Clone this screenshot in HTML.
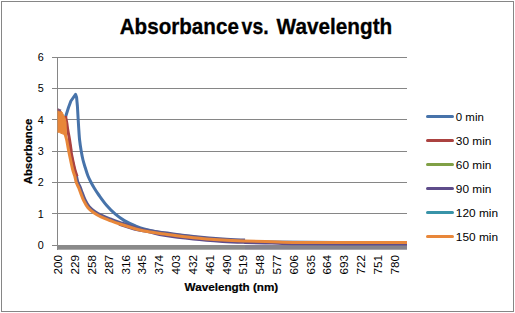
<!DOCTYPE html>
<html><head><meta charset="utf-8">
<style>
html,body{margin:0;padding:0;background:#fff;overflow:hidden;}
svg{display:block;}
text{font-family:"Liberation Sans",sans-serif;}
</style></head>
<body>
<svg width="515" height="313" viewBox="0 0 515 313">
<rect x="0" y="0" width="515" height="313" fill="#fff"/>
<rect x="1.5" y="1.5" width="512" height="310" fill="none" stroke="#868686" stroke-width="1"/>
<g font-size="21.5" font-weight="bold" fill="#000" stroke="#000" stroke-width="0.3">
<text x="119.7" y="33.9" textLength="119.2" lengthAdjust="spacingAndGlyphs">Absorbance</text>
<text x="241.6" y="33.9" textLength="27" lengthAdjust="spacingAndGlyphs">vs.</text>
<text x="276.6" y="33.9" textLength="115.7" lengthAdjust="spacingAndGlyphs">Wavelength</text>
</g>
<g stroke="#868686" stroke-width="1" shape-rendering="crispEdges">
<line x1="52" y1="213.67" x2="407" y2="213.67"/>
<line x1="52" y1="182.33" x2="407" y2="182.33"/>
<line x1="52" y1="151.00" x2="407" y2="151.00"/>
<line x1="52" y1="119.67" x2="407" y2="119.67"/>
<line x1="52" y1="88.33" x2="407" y2="88.33"/>
<line x1="52" y1="57.00" x2="407" y2="57.00"/>
<line x1="52" y1="245.5" x2="57" y2="245.5"/>
<line x1="57.5" y1="57" x2="57.5" y2="250"/>
</g>
<rect x="57" y="245" width="350" height="4.7" fill="#8A8A8A"/>
<rect x="245" y="245" width="162" height="4.7" fill="#6A5A9A" fill-opacity="0.12"/>
<g font-size="10.8" fill="#000" text-anchor="end">
<text x="43.8" y="248.90">0</text>
<text x="43.8" y="217.57">1</text>
<text x="43.8" y="186.23">2</text>
<text x="43.8" y="154.90">3</text>
<text x="43.8" y="123.57">4</text>
<text x="43.8" y="92.23">5</text>
<text x="43.8" y="60.90">6</text>
</g>
<text transform="translate(31.5,151.5) rotate(-90)" font-size="11.5" font-weight="bold" stroke="#000" stroke-width="0.2" text-anchor="middle" textLength="65.5" lengthAdjust="spacingAndGlyphs">Absorbance</text>
<text x="184.6" y="291.4" font-size="11.5" font-weight="bold" stroke="#000" stroke-width="0.2" textLength="93.6" lengthAdjust="spacingAndGlyphs">Wavelength (nm)</text>
<g font-size="10.2" fill="#000" text-anchor="end">
<text transform="translate(58.75,255) rotate(-90)" y="3.65" textLength="19.6" lengthAdjust="spacingAndGlyphs">200</text>
<text transform="translate(75.56,255) rotate(-90)" y="3.65" textLength="19.6" lengthAdjust="spacingAndGlyphs">229</text>
<text transform="translate(92.37,255) rotate(-90)" y="3.65" textLength="19.6" lengthAdjust="spacingAndGlyphs">258</text>
<text transform="translate(109.18,255) rotate(-90)" y="3.65" textLength="19.6" lengthAdjust="spacingAndGlyphs">287</text>
<text transform="translate(125.99,255) rotate(-90)" y="3.65" textLength="19.6" lengthAdjust="spacingAndGlyphs">316</text>
<text transform="translate(142.80,255) rotate(-90)" y="3.65" textLength="19.6" lengthAdjust="spacingAndGlyphs">345</text>
<text transform="translate(159.61,255) rotate(-90)" y="3.65" textLength="19.6" lengthAdjust="spacingAndGlyphs">374</text>
<text transform="translate(176.42,255) rotate(-90)" y="3.65" textLength="19.6" lengthAdjust="spacingAndGlyphs">403</text>
<text transform="translate(193.23,255) rotate(-90)" y="3.65" textLength="19.6" lengthAdjust="spacingAndGlyphs">432</text>
<text transform="translate(210.04,255) rotate(-90)" y="3.65" textLength="19.6" lengthAdjust="spacingAndGlyphs">461</text>
<text transform="translate(226.85,255) rotate(-90)" y="3.65" textLength="19.6" lengthAdjust="spacingAndGlyphs">490</text>
<text transform="translate(243.66,255) rotate(-90)" y="3.65" textLength="19.6" lengthAdjust="spacingAndGlyphs">519</text>
<text transform="translate(260.47,255) rotate(-90)" y="3.65" textLength="19.6" lengthAdjust="spacingAndGlyphs">548</text>
<text transform="translate(277.28,255) rotate(-90)" y="3.65" textLength="19.6" lengthAdjust="spacingAndGlyphs">577</text>
<text transform="translate(294.09,255) rotate(-90)" y="3.65" textLength="19.6" lengthAdjust="spacingAndGlyphs">606</text>
<text transform="translate(310.90,255) rotate(-90)" y="3.65" textLength="19.6" lengthAdjust="spacingAndGlyphs">635</text>
<text transform="translate(327.71,255) rotate(-90)" y="3.65" textLength="19.6" lengthAdjust="spacingAndGlyphs">664</text>
<text transform="translate(344.52,255) rotate(-90)" y="3.65" textLength="19.6" lengthAdjust="spacingAndGlyphs">693</text>
<text transform="translate(361.33,255) rotate(-90)" y="3.65" textLength="19.6" lengthAdjust="spacingAndGlyphs">722</text>
<text transform="translate(378.14,255) rotate(-90)" y="3.65" textLength="19.6" lengthAdjust="spacingAndGlyphs">751</text>
<text transform="translate(394.95,255) rotate(-90)" y="3.65" textLength="19.6" lengthAdjust="spacingAndGlyphs">780</text>
</g>
<g fill="none" stroke-width="3" stroke-linejoin="round" stroke-linecap="butt">
<path d="M65.20 118.00 L68.50 107.50 L70.90 101.00 L75.60 94.40 L76.60 97.50 L77.40 106.00 L78.10 118.00 L78.70 128.00 L78.70 128.00 C78.85 130.00 79.18 136.17 79.60 140.00 C80.02 143.83 80.63 147.67 81.20 151.00 C81.77 154.33 82.32 157.20 83.00 160.00 C83.68 162.80 84.47 165.13 85.30 167.80 C86.13 170.47 87.03 173.55 88.00 176.00 C88.97 178.45 90.02 180.42 91.10 182.50 C92.18 184.58 93.22 186.42 94.50 188.50 C95.78 190.58 96.80 192.22 98.80 195.00 C100.80 197.78 103.73 202.00 106.50 205.20 C109.27 208.40 112.42 211.63 115.40 214.20 C118.38 216.77 121.13 218.68 124.40 220.60 C127.67 222.52 131.57 224.27 135.00 225.70 C138.43 227.13 140.17 227.93 145.00 229.20 C149.83 230.47 156.00 232.00 164.00 233.30 C172.00 234.60 183.17 235.83 193.00 237.00 C202.83 238.17 214.33 239.57 223.00 240.30 C231.67 241.03 236.83 241.10 245.00 241.40 C253.17 241.70 245.00 241.83 272.00 242.10 C299.00 242.37 384.50 242.85 407.00 243.00" stroke="#4773AA"/>
<path d="M65.50 116.00 C65.72 117.17 66.42 120.67 66.80 123.00 C67.18 125.33 67.33 127.17 67.80 130.00 C68.27 132.83 69.03 136.50 69.60 140.00 C70.17 143.50 70.93 149.17 71.20 151.00" stroke="#AB4240"/>
<path d="M70.26 150.67 C70.90 153.63 73.01 164.11 74.06 168.42 C75.10 172.74 75.92 174.31 76.54 176.57 C77.17 178.83 77.21 180.21 77.81 181.98 C78.42 183.75 79.43 185.38 80.18 187.19 C80.93 189.00 81.46 190.70 82.29 192.82 C83.12 194.93 83.97 197.56 85.13 199.88 C86.29 202.21 87.63 204.85 89.23 206.78 C90.83 208.71 92.64 210.04 94.72 211.49 C96.79 212.94 99.04 214.20 101.69 215.45 C104.33 216.71 107.58 217.86 110.57 219.00 C113.56 220.15 115.26 220.81 119.65 222.30 C124.03 223.78 131.78 226.51 136.87 227.93 C141.97 229.35 145.61 230.02 150.22 230.82 C154.84 231.62 157.33 231.78 164.57 232.71 C171.80 233.64 183.93 235.34 193.63 236.41 C203.33 237.47 214.19 238.49 222.76 239.10 C231.33 239.72 241.33 239.93 245.04 240.10" stroke="#5A5A8E"/>
<path d="M68.77 139.62 C69.10 141.45 69.80 145.81 70.76 150.59 C71.72 155.37 73.50 164.01 74.54 168.31 C75.58 172.61 76.60 175.04 77.01 176.39" stroke="#AB4240"/>
<path d="M119.01 224.09 C121.93 224.99 131.35 228.15 136.51 229.49 C141.68 230.82 145.38 231.12 150.00 232.10 C154.62 233.08 157.00 234.22 164.22 235.39 C171.45 236.55 183.63 238.09 193.36 239.09 C203.09 240.09 214.01 240.85 222.61 241.40 C231.21 241.95 236.73 242.12 244.95 242.40 C253.18 242.68 262.79 242.87 271.96 243.10 C281.14 243.33 277.49 243.65 299.99 243.80 C322.50 243.95 389.16 243.97 407.00 244.00" stroke="#5E4C8A"/>
<path d="M57.50 109.50 L60.00 110.50 L62.00 112.00 L65.00 118.00 L66.00 122.00 L66.30 130.00 L66.50 135.00 L62.70 134.00 L59.50 132.60 L57.50 132.00" fill="#E8873A" stroke="#E8873A" stroke-width="1"/>
<path d="M65.00 134.00 C65.28 135.00 66.08 137.17 66.70 140.00 C67.32 142.83 67.73 146.20 68.70 151.00 C69.67 155.80 71.45 164.47 72.50 168.80 C73.55 173.13 74.37 174.72 75.00 177.00 C75.63 179.28 75.68 180.70 76.30 182.50 C76.92 184.30 77.95 185.98 78.70 187.80 C79.45 189.62 79.97 191.27 80.80 193.40 C81.63 195.53 82.50 198.20 83.70 200.60 C84.90 203.00 86.32 205.77 88.00 207.80 C89.68 209.83 91.63 211.28 93.80 212.80 C95.97 214.32 98.30 215.62 101.00 216.90 C103.70 218.18 106.98 219.35 110.00 220.50 C113.02 221.65 114.67 222.35 119.10 223.80 C123.53 225.25 131.45 227.82 136.60 229.20 C141.75 230.58 145.37 231.30 150.00 232.10 C154.63 232.90 157.15 233.07 164.40 234.00 C171.65 234.93 183.78 236.70 193.50 237.70 C203.22 238.70 214.12 239.45 222.70 240.00 C231.28 240.55 236.78 240.72 245.00 241.00 C253.22 241.28 262.83 241.47 272.00 241.70 C281.17 241.93 277.50 242.25 300.00 242.40 C322.50 242.55 389.17 242.57 407.00 242.60" stroke="#E8873A"/>
<path d="M57.5 109.3 L61 110.8" stroke="#7E5A78" stroke-width="2.2"/>
</g>
<g stroke-width="3" stroke-linecap="round">
<line x1="427.5" y1="116.50" x2="452.5" y2="116.50" stroke="#4773AA"/>
<line x1="427.5" y1="140.50" x2="452.5" y2="140.50" stroke="#AB4240"/>
<line x1="427.5" y1="164.50" x2="452.5" y2="164.50" stroke="#80A046"/>
<line x1="427.5" y1="188.50" x2="452.5" y2="188.50" stroke="#5E4C8A"/>
<line x1="427.5" y1="212.50" x2="452.5" y2="212.50" stroke="#3893A8"/>
<line x1="427.5" y1="236.50" x2="452.5" y2="236.50" stroke="#E8873A"/>
</g>
<g font-size="10.8" fill="#000">
<text x="455.8" y="120.60" textLength="28.0" lengthAdjust="spacingAndGlyphs">0 min</text>
<text x="455.8" y="144.60" textLength="35.6" lengthAdjust="spacingAndGlyphs">30 min</text>
<text x="455.8" y="168.60" textLength="35.6" lengthAdjust="spacingAndGlyphs">60 min</text>
<text x="455.8" y="192.60" textLength="35.6" lengthAdjust="spacingAndGlyphs">90 min</text>
<text x="455.8" y="216.60" textLength="42.2" lengthAdjust="spacingAndGlyphs">120 min</text>
<text x="455.8" y="240.60" textLength="42.2" lengthAdjust="spacingAndGlyphs">150 min</text>
</g>
</svg>
</body></html>
